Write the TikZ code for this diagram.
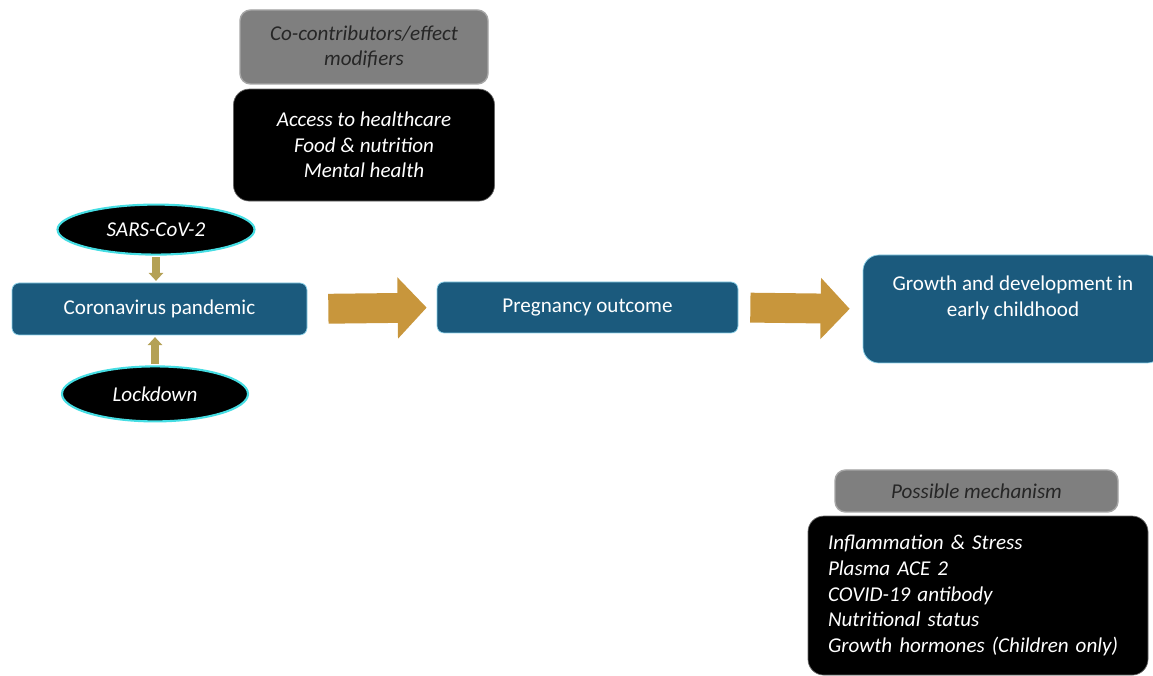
\documentclass[tikz,border=0pt]{standalone}
\usepackage{fontspec}
\setmainfont{Carlito}
\usepackage{tikz}
\usetikzlibrary{
  arrows.meta,
  shapes.geometric,
  positioning
}
\definecolor{cvBlue}{HTML}{1B5A7D}
\definecolor{cvEdge}{HTML}{8FD3EA}
\definecolor{cvGlow}{HTML}{45DDE3}
\definecolor{cvArrow}{HTML}{C8963C}
\definecolor{cvGrey}{HTML}{7F7F7F}
\definecolor{cvGreyEdge}{HTML}{A6A6A6}
\tikzset{
  cvnode/.style={
    rounded corners=4pt, align=center, inner sep=0pt,
    font=\fontsize{12}{14.6}\selectfont
  },
  stage/.style={cvnode, fill=cvBlue, draw=cvEdge, thin, text=white},
  headbox/.style={cvnode, fill=cvGrey, draw=cvGreyEdge, thick, text=black!85,
    rounded corners=6pt, font=\fontsize{12}{14.6}\selectfont\itshape},
  listbox/.style={cvnode, fill=black, draw=black!60, text=white,
    rounded corners=9pt, font=\fontsize{12}{14.6}\selectfont\itshape},
  cause/.style={ellipse, fill=black, draw=cvGlow, line width=1.2pt, text=white,
    inner sep=0pt, font=\fontsize{12}{14.6}\selectfont\itshape},
  bigflow/.style={-{Triangle[length=16.5pt,width=34pt]}, line width=17pt, cvArrow},
  smallflow/.style={-{Triangle[length=4.5pt,width=8pt]}, line width=4.5pt,
    cvArrow!85!cvGlow, shorten <=1pt, shorten >=1pt}
}

\begin{document}
\begin{tikzpicture}
  \useasboundingbox (0,0) rectangle (23.06,-13.52);
  % main chain
  \node[stage, minimum width=5.9cm, minimum height=1.04cm] (pand) at (3.19,-6.18) {Coronavirus pandemic};
  \node[stage, minimum width=6.02cm, minimum height=1.02cm] (preg) at (11.75,-6.15) {Pregnancy outcome};
  \node[stage, minimum width=6.0cm, minimum height=2.16cm, rounded corners=9pt] (grow) at (20.26,-6.18) {Growth and development in\\early childhood\\\mbox{}};
  % causes
  \node[cause, minimum width=3.94cm, minimum height=1.0cm, above=0.54cm of pand, xshift=-0.07cm] (sars) {SARS-CoV-2};
  \node[cause, minimum width=3.72cm, minimum height=1.1cm, below=0.6cm of pand, xshift=-0.09cm] (lock) {Lockdown};
  % modifiers
  \node[headbox, minimum width=4.96cm, minimum height=1.48cm] (cohead) at (7.28,-0.94) {Co-contributors/effect\\modifiers};
  \node[listbox, minimum width=5.22cm, minimum height=2.24cm, below=0.08cm of cohead] (colist) {Access to healthcare\\Food \& nutrition\\Mental health};
  % mechanisms
  \node[headbox, minimum width=5.66cm, minimum height=0.84cm] (mechead) at (19.53,-9.82) {Possible mechanism};
  \node[listbox, text width=6.0cm, inner xsep=0.4cm, minimum height=3.18cm, align=left, below=0.06cm of mechead, xshift=0.03cm] (meclist) {Inflammation \& Stress\\Plasma ACE 2\\COVID-19 antibody\\Nutritional status\\Growth hormones (Children only)};
  \draw[bigflow, shorten <=0.42cm, shorten >=0.2cm] (pand.east) -- (preg.west);
  \draw[bigflow, shorten <=0.24cm, shorten >=0.26cm] (preg.east) -- (grow.west);
  \draw[smallflow] (sars.south) -- (sars.south |- pand.north);
  \draw[smallflow] (lock.north) -- (lock.north |- pand.south);
\end{tikzpicture}
\end{document}
